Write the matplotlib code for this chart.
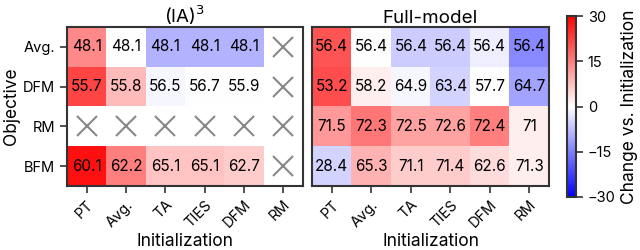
import numpy as np
import matplotlib
matplotlib.use("Agg")
import matplotlib.pyplot as plt

plt.rcParams["font.family"] = ["Inter", "DejaVu Sans"]

inits = ["PT", "Avg.", "TA", "TIES", "DFM", "RM"]
objectives = ["Avg.", "DFM", "RM", "BFM"]
nan = np.nan

# displayed accuracies
ia3_vals = [
    [48.1, 48.1, 48.1, 48.1, 48.1, nan],
    [55.7, 55.8, 56.5, 56.7, 55.9, nan],
    [nan, nan, nan, nan, nan, nan],
    [60.1, 62.2, 65.1, 65.1, 62.7, nan],
]
full_vals = [
    [56.4, 56.4, 56.4, 56.4, 56.4, 56.4],
    [53.2, 58.2, 64.9, 63.4, 57.7, 64.7],
    [71.5, 72.3, 72.5, 72.6, 72.4, 71],
    [28.4, 65.3, 71.1, 71.4, 62.6, 71.3],
]
# change vs. initialization (cell colour)
ia3_change = [
    [14, 0, -9, -9, -9, nan],
    [22, 8, -1, 0, 0, nan],
    [nan, nan, nan, nan, nan, nan],
    [28, 15, 7, 7, 6, nan],
]
full_change = [
    [20, 0, -6, -6, -2, -14],
    [21, 2, -1, -5, 0, -11],
    [12, 16, 11, 11, 15, 2],
    [-5, 9, 6, 6, 4, 2],
]

fig = plt.figure(figsize=(6.4, 2.5), dpi=100)
W, H = 640, 250
ax1 = fig.add_axes([67 / W, 1 - 186 / H, 236 / W, 159 / H])
ax2 = fig.add_axes([312 / W, 1 - 186 / H, 237 / W, 159 / H])
cax = fig.add_axes([567 / W, 1 - 197 / H, 9 / W, 181 / H])

cmap = plt.get_cmap("bwr").copy()
cmap.set_bad("white")
frame = "#333333"

for ax, vals, chg, title in [(ax1, ia3_vals, ia3_change, "(IA)$^3$"),
                             (ax2, full_vals, full_change, "Full-model")]:
    c = np.ma.masked_invalid(np.array(chg, dtype=float))
    im = ax.imshow(c, cmap=cmap, vmin=-30, vmax=30, aspect="auto")
    v = np.array(vals, dtype=float)
    for i in range(v.shape[0]):
        for j in range(v.shape[1]):
            if np.isnan(v[i, j]):
                ax.plot(j, i, marker="x", color="#888888", markersize=14,
                        mew=1.5)
            else:
                ax.text(j, i, f"{v[i, j]:g}", ha="center", va="center",
                        fontsize=11, color="black")
    ax.set_xticks(range(len(inits)))
    ax.set_xticklabels(inits, rotation=45, ha="right", rotation_mode="anchor",
                       fontsize=10.5)
    ax.set_yticks(range(len(objectives)))
    ax.set_title(title, fontsize=13.5, pad=3)
    ax.set_xlabel("Initialization", fontsize=12.5, labelpad=2)
    for s in ax.spines.values():
        s.set_color(frame)
        s.set_linewidth(1.5)
    ax.tick_params(color=frame, length=5, width=1.2)
    ax.set_xlim(-0.5, 5.5)
    ax.set_ylim(3.5, -0.5)

ax1.set_yticklabels(objectives, fontsize=10.5)
ax1.set_ylabel("Objective", fontsize=12.5, labelpad=2)
ax2.set_yticks([])

cb = fig.colorbar(im, cax=cax, ticks=[-30, -15, 0, 15, 30])
cb.outline.set_color(frame)
cb.outline.set_linewidth(1.5)
cb.ax.tick_params(color=frame, length=5, width=1.2, labelsize=10.5)
cb.set_label("Change vs. Initialization", fontsize=12.5, labelpad=4)

fig.savefig("out.png", dpi=100)
